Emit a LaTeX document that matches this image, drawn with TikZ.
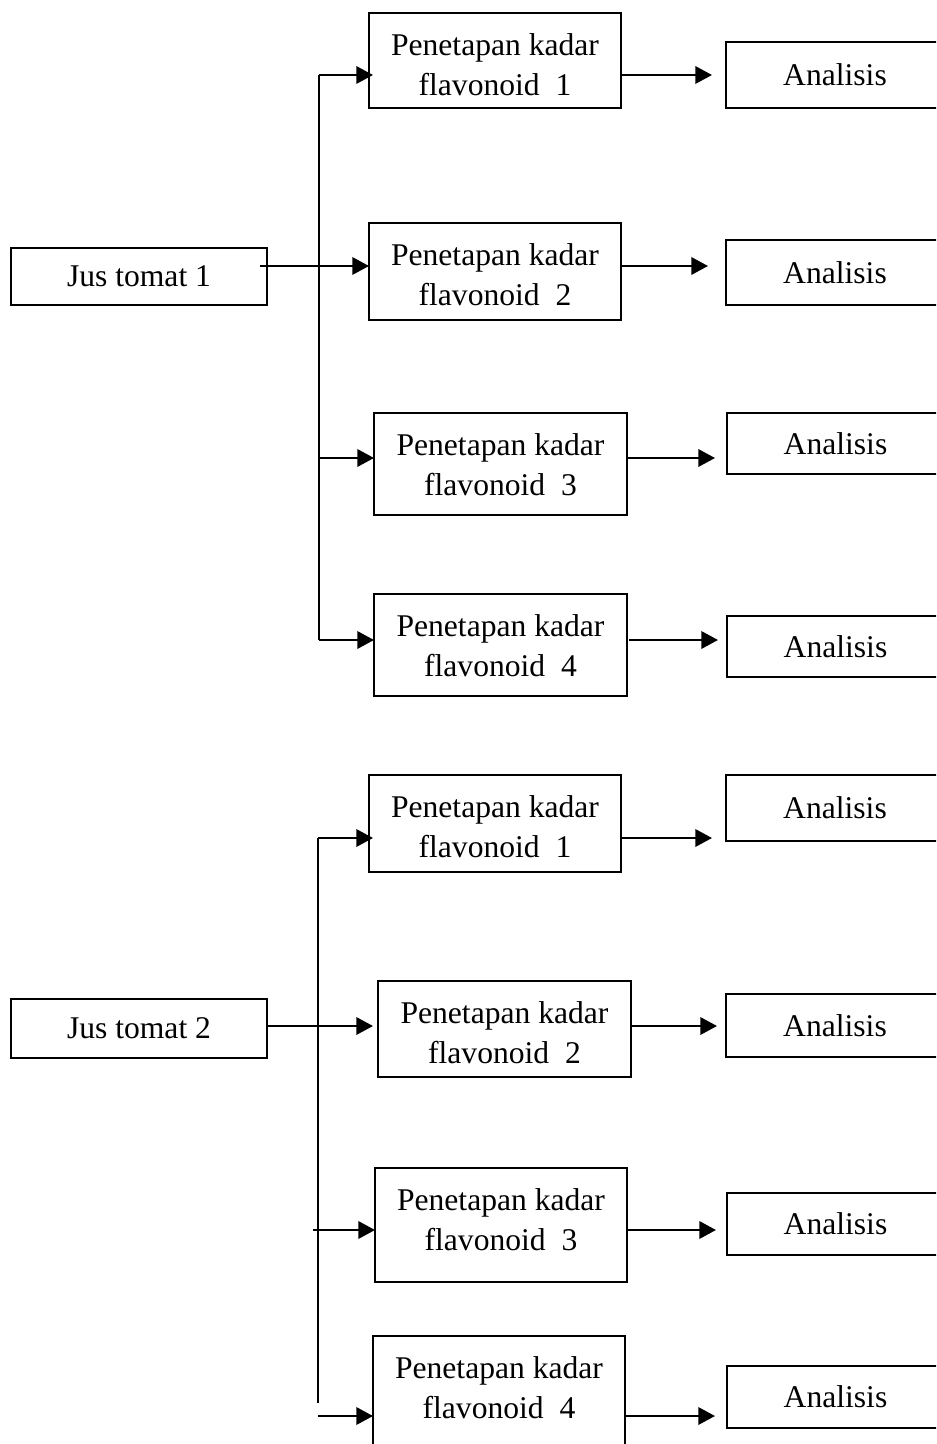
\documentclass[tikz,border=0pt]{standalone}
\usepackage{fontspec}
\setmainfont{Liberation Serif}
\usetikzlibrary{arrows.meta,calc}
\begin{document}
\begin{tikzpicture}[x=0.75pt,y=-0.75pt,
  box/.style n args={2}{draw, line width=1.5pt, inner sep=0pt, outer sep=0pt,
    minimum width=#1*0.75pt, minimum height=#2*0.75pt, align=center,
    font=\fontsize{23.7}{30}\selectfont},
  ptext/.style={inner sep=0pt, anchor=north, align=center, yshift=-14.9pt,
    font=\fontsize{23.7}{30.5}\selectfont},
  arr/.style={line width=1.8pt, -{Triangle[length=12.5pt,width=13pt]}},
  trunk/.style={line width=1.8pt}]
\useasboundingbox (0,0) rectangle (936,1444);
\fill[white] (0,0) rectangle (936,1444);
\clip (0,0) rectangle (936,1444);

% ---------- group 1 ----------
\node[box={256}{57}] (J1) at (139,276.5) {Jus tomat 1};
\node[box={252}{95}] (P1a) at (495,60.5) {};
\node[box={252}{97}] (P2a) at (495,271.5) {};
\node[box={253}{102}] (P3a) at (500.5,464) {};
\node[box={253}{102}] (P4a) at (500.5,645) {};
\node[ptext] (P1aT) at (P1a.north) {Penetapan kadar\\flavonoid~ 1};
\node[ptext] (P2aT) at (P2a.north) {Penetapan kadar\\flavonoid~ 2};
\node[ptext] (P3aT) at (P3a.north) {Penetapan kadar\\flavonoid~ 3};
\node[ptext] (P4aT) at (P4a.north) {Penetapan kadar\\flavonoid~ 4};
\node[box={218}{66}] (A1a) at (835,75) {Analisis};
\node[box={218}{65}] (A2a) at (835,272.5) {Analisis};
\node[box={217}{61}] (A3a) at (835.5,443.5) {Analisis};
\node[box={217}{61}] (A4a) at (835.5,646.5) {Analisis};

\coordinate (ya1) at (319,75);
\coordinate (ya2) at (319,266);
\coordinate (ya3) at (319,458);
\coordinate (ya4) at (319,640);

\draw[trunk] (ya1) -- (ya4);
\draw[arr] (ya1) -- ($(P1a.west |- ya1)+(4,0)$);
\draw[arr] ($(J1.east |- ya2)+(-7,0)$) -- (P2a.west |- ya2);
\draw[arr] (ya3) -- (P3a.west |- ya3);
\draw[arr] (ya4) -- (P4a.west |- ya4);

\draw[arr] (P1a.east |- ya1) -- ($(A1a.west |- ya1)+(-14,0)$);
\draw[arr] (P2a.east |- ya2) -- ($(A2a.west |- ya2)+(-18,0)$);
\draw[arr] (P3a.east |- ya3) -- ($(A3a.west |- ya3)+(-12,0)$);
\draw[arr] ($(P4a.east |- ya4)+(2,0)$) -- ($(A4a.west |- ya4)+(-9,0)$);

% ---------- group 2 ----------
\node[box={256}{59}] (J2) at (139,1028.5) {Jus tomat 2};
\node[box={252}{97}] (P1b) at (495,823.5) {};
\node[box={253}{96}] (P2b) at (504.5,1029) {};
\node[box={252}{114}] (P3b) at (501,1225) {};
\node[box={252}{116}] (P4b) at (499,1394) {};
\node[ptext] (P1bT) at (P1b.north) {Penetapan kadar\\flavonoid~ 1};
\node[ptext] (P2bT) at (P2b.north) {Penetapan kadar\\flavonoid~ 2};
\node[ptext] (P3bT) at (P3b.north) {Penetapan kadar\\flavonoid~ 3};
\node[ptext] (P4bT) at (P4b.north) {Penetapan kadar\\flavonoid~ 4};
\node[box={218}{66}] (A1b) at (835,808) {Analisis};
\node[box={218}{63}] (A2b) at (835,1025.5) {Analisis};
\node[box={217}{62}] (A3b) at (835.5,1224) {Analisis};
\node[box={217}{62}] (A4b) at (835.5,1397) {Analisis};

\coordinate (yb1) at (318,838);
\coordinate (yb2) at (318,1026);
\coordinate (yb3) at (318,1230);
\coordinate (yb4) at (318,1416);
\coordinate (tb) at (318,1403);

\draw[trunk] (yb1) -- (tb);
\draw[arr] (yb1) -- ($(P1b.west |- yb1)+(4,0)$);
\draw[arr] (J2.east |- yb2) -- ($(P2b.west |- yb2)+(-5,0)$);
\draw[arr] ($(yb3)+(-5,0)$) -- (P3b.west |- yb3);
\draw[arr] (yb4) -- (P4b.west |- yb4);

\draw[arr] (P1b.east |- yb1) -- ($(A1b.west |- yb1)+(-14,0)$);
\draw[arr] (P2b.east |- yb2) -- ($(A2b.west |- yb2)+(-9,0)$);
\draw[arr] (P3b.east |- yb3) -- ($(A3b.west |- yb3)+(-11,0)$);
\draw[arr] (P4b.east |- yb4) -- ($(A4b.west |- yb4)+(-12,0)$);
\end{tikzpicture}
\end{document}
